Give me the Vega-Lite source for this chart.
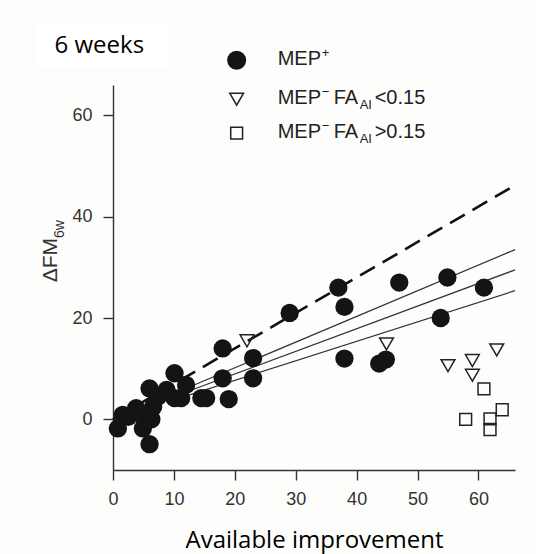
{
  "$schema": "https://vega.github.io/schema/vega-lite/v6.json",
  "width": 402,
  "height": 385,
  "autosize": {"type": "none"},
  "padding": {"left": 113, "top": 85, "right": 21, "bottom": 84},
  "background": "#fdfdfb",
  "config": {
    "view": {"stroke": null},
    "axis": {
      "grid": false,
      "domainColor": "#333333",
      "domainWidth": 1.4,
      "tickColor": "#333333",
      "tickWidth": 1.4,
      "tickSize": 10,
      "labelFont": "Liberation Sans",
      "labelFontSize": 18,
      "labelColor": "#333333",
      "labelFlush": false,
      "labelOverlap": false,
      "titleFont": "Open Sans",
      "titleFontSize": 24,
      "titleFontWeight": "normal",
      "titleColor": "#000000"
    },
    "axisX": {"tickCount": 7, "labelPadding": 10, "titlePadding": 20},
    "axisY": {"tickCount": 4, "labelPadding": 11}
  },
  "datasets": {
    "patients": [
      {"improvement": 0.8, "dfm": -1.8, "group": "MEP+"},
      {"improvement": 1.6, "dfm": 0.9, "group": "MEP+"},
      {"improvement": 2.5, "dfm": 0.5, "group": "MEP+"},
      {"improvement": 3.8, "dfm": 2.2, "group": "MEP+"},
      {"improvement": 4.6, "dfm": 1.0, "group": "MEP+"},
      {"improvement": 4.9, "dfm": -1.8, "group": "MEP+"},
      {"improvement": 6.0, "dfm": -4.9, "group": "MEP+"},
      {"improvement": 6.3, "dfm": 0.0, "group": "MEP+"},
      {"improvement": 6.6, "dfm": 2.5, "group": "MEP+"},
      {"improvement": 6.0, "dfm": 6.1, "group": "MEP+"},
      {"improvement": 7.4, "dfm": 4.5, "group": "MEP+"},
      {"improvement": 8.8, "dfm": 5.8, "group": "MEP+"},
      {"improvement": 10.1, "dfm": 9.1, "group": "MEP+"},
      {"improvement": 10.1, "dfm": 4.2, "group": "MEP+"},
      {"improvement": 11.2, "dfm": 4.2, "group": "MEP+"},
      {"improvement": 12.0, "dfm": 6.8, "group": "MEP+"},
      {"improvement": 14.5, "dfm": 4.2, "group": "MEP+"},
      {"improvement": 15.3, "dfm": 4.2, "group": "MEP+"},
      {"improvement": 18.0, "dfm": 14.0, "group": "MEP+"},
      {"improvement": 18.0, "dfm": 8.1, "group": "MEP+"},
      {"improvement": 19.0, "dfm": 4.0, "group": "MEP+"},
      {"improvement": 23.0, "dfm": 12.1, "group": "MEP+"},
      {"improvement": 23.0, "dfm": 8.1, "group": "MEP+"},
      {"improvement": 29.0, "dfm": 21.0, "group": "MEP+"},
      {"improvement": 37.0, "dfm": 26.0, "group": "MEP+"},
      {"improvement": 38.0, "dfm": 22.2, "group": "MEP+"},
      {"improvement": 38.0, "dfm": 12.0, "group": "MEP+"},
      {"improvement": 43.7, "dfm": 11.0, "group": "MEP+"},
      {"improvement": 44.8, "dfm": 11.8, "group": "MEP+"},
      {"improvement": 47.0, "dfm": 27.0, "group": "MEP+"},
      {"improvement": 53.8, "dfm": 20.0, "group": "MEP+"},
      {"improvement": 54.9, "dfm": 28.0, "group": "MEP+"},
      {"improvement": 60.9, "dfm": 26.0, "group": "MEP+"},
      {"improvement": 22.0, "dfm": 15.5, "group": "MEP- FA<0.15"},
      {"improvement": 44.9, "dfm": 14.9, "group": "MEP- FA<0.15"},
      {"improvement": 55.0, "dfm": 10.6, "group": "MEP- FA<0.15"},
      {"improvement": 59.0, "dfm": 11.6, "group": "MEP- FA<0.15"},
      {"improvement": 59.0, "dfm": 8.7, "group": "MEP- FA<0.15"},
      {"improvement": 63.0, "dfm": 13.7, "group": "MEP- FA<0.15"},
      {"improvement": 60.9, "dfm": 6.0, "group": "MEP- FA>0.15"},
      {"improvement": 57.9, "dfm": 0.0, "group": "MEP- FA>0.15"},
      {"improvement": 61.9, "dfm": 0.1, "group": "MEP- FA>0.15"},
      {"improvement": 61.9, "dfm": -2.0, "group": "MEP- FA>0.15"},
      {"improvement": 63.9, "dfm": 1.9, "group": "MEP- FA>0.15"}
    ],
    "fits": [
      {"fit": "proportional", "improvement": 0, "dfm": 0},
      {"fit": "proportional", "improvement": 66, "dfm": 46.2},
      {"fit": "upper", "improvement": 10, "dfm": 5.1},
      {"fit": "upper", "improvement": 66, "dfm": 33.5},
      {"fit": "estimate", "improvement": 10, "dfm": 4.5},
      {"fit": "estimate", "improvement": 66, "dfm": 29.5},
      {"fit": "lower", "improvement": 10, "dfm": 3.85},
      {"fit": "lower", "improvement": 66, "dfm": 25.4}
    ],
    "key": [
      {"group": "MEP+", "ly": 70.9, "base": "MEP", "sup": "+", "mid": "", "sub": "", "tail": ""},
      {"group": "MEP- FA<0.15", "ly": 63.2, "base": "MEP", "sup": "−", "mid": "FA", "sub": "AI", "tail": "<0.15"},
      {"group": "MEP- FA>0.15", "ly": 56.5, "base": "MEP", "sup": "−", "mid": "FA", "sub": "AI", "tail": ">0.15"}
    ],
    "captions": [
      {"period": "6 weeks", "ytitle": "ΔFM", "ysub": "6w"}
    ]
  },
  "layer": [
    {
      "data": {"name": "fits"},
      "transform": [{"filter": "datum.fit === 'proportional'"}],
      "mark": {"type": "line", "color": "#111111", "strokeWidth": 2.6, "strokeDash": [17, 9]},
      "encoding": {
        "x": {"field": "improvement", "type": "quantitative", "scale": {"domain": [0, 66], "nice": false, "zero": false},
              "axis": {"title": "Available improvement"}},
        "y": {"field": "dfm", "type": "quantitative", "scale": {"domain": [-10, 66], "nice": false, "zero": false},
              "axis": {"title": null}}
      }
    },
    {
      "data": {"name": "captions"},
      "mark": {"type": "rect", "fill": "#ffffff"},
      "encoding": {
        "x": {"datum": -12.9, "type": "quantitative", "scale": {"domain": [0, 66], "nice": false, "zero": false}},
        "x2": {"datum": 9.3},
        "y": {"datum": 78.4, "type": "quantitative", "scale": {"domain": [-10, 66], "nice": false, "zero": false}},
        "y2": {"datum": 69.4}
      }
    },
    {
      "data": {"name": "captions"},
      "mark": {"type": "text", "align": "left", "baseline": "alphabetic", "font": "Open Sans", "fontSize": 24, "fill": "#000000"},
      "encoding": {
        "x": {"datum": -9.6, "type": "quantitative", "scale": {"domain": [0, 66], "nice": false, "zero": false}},
        "y": {"datum": 72.3, "type": "quantitative", "scale": {"domain": [-10, 66], "nice": false, "zero": false}},
        "text": {"field": "period"}
      }
    },
    {
      "data": {"name": "captions"},
      "mark": {"type": "text", "angle": 270, "align": "right", "baseline": "alphabetic", "font": "Liberation Sans", "fontSize": 21, "fill": "#333333"},
      "encoding": {
        "x": {"datum": -9.19, "type": "quantitative", "scale": {"domain": [0, 66], "nice": false, "zero": false}},
        "y": {"datum": 35.8, "type": "quantitative", "scale": {"domain": [-10, 66], "nice": false, "zero": false}},
        "text": {"field": "ytitle"}
      }
    },
    {
      "data": {"name": "captions"},
      "mark": {"type": "text", "angle": 270, "align": "left", "baseline": "alphabetic", "font": "Liberation Sans", "fontSize": 14, "fill": "#333333"},
      "encoding": {
        "x": {"datum": -8.1, "type": "quantitative", "scale": {"domain": [0, 66], "nice": false, "zero": false}},
        "y": {"datum": 35.8, "type": "quantitative", "scale": {"domain": [-10, 66], "nice": false, "zero": false}},
        "text": {"field": "ysub"}
      }
    },
    {
      "data": {"name": "fits"},
      "transform": [{"filter": "datum.fit !== 'proportional'"}],
      "mark": {"type": "line", "color": "#333333", "strokeWidth": 1.2},
      "encoding": {
        "x": {"field": "improvement", "type": "quantitative", "scale": {"domain": [0, 66], "nice": false, "zero": false}},
        "y": {"field": "dfm", "type": "quantitative", "scale": {"domain": [-10, 66], "nice": false, "zero": false}},
        "detail": {"field": "fit"}
      }
    },
    {
      "data": {"name": "patients"},
      "transform": [{"filter": "datum.group === 'MEP- FA<0.15'"}],
      "mark": {"type": "point", "shape": "triangle-down", "filled": false, "size": 190, "stroke": "#222222", "strokeWidth": 1.5, "opacity": 1},
      "encoding": {
        "x": {"field": "improvement", "type": "quantitative", "scale": {"domain": [0, 66], "nice": false, "zero": false}},
        "y": {"field": "dfm", "type": "quantitative", "scale": {"domain": [-10, 66], "nice": false, "zero": false}}
      }
    },
    {
      "data": {"name": "patients"},
      "transform": [{"filter": "datum.group === 'MEP- FA>0.15'"}],
      "mark": {"type": "point", "shape": "square", "filled": false, "size": 140, "stroke": "#222222", "strokeWidth": 1.5, "opacity": 1},
      "encoding": {
        "x": {"field": "improvement", "type": "quantitative", "scale": {"domain": [0, 66], "nice": false, "zero": false}},
        "y": {"field": "dfm", "type": "quantitative", "scale": {"domain": [-10, 66], "nice": false, "zero": false}}
      }
    },
    {
      "data": {"name": "patients"},
      "transform": [{"filter": "datum.group === 'MEP+'"}],
      "mark": {"type": "circle", "size": 335, "fill": "#141414", "opacity": 1},
      "encoding": {
        "x": {"field": "improvement", "type": "quantitative", "scale": {"domain": [0, 66], "nice": false, "zero": false}},
        "y": {"field": "dfm", "type": "quantitative", "scale": {"domain": [-10, 66], "nice": false, "zero": false}}
      }
    },
    {
      "data": {"name": "key"},
      "transform": [{"filter": "datum.group === 'MEP+'"}],
      "mark": {"type": "circle", "size": 361, "fill": "#141414", "opacity": 1},
      "encoding": {
        "x": {"datum": 20.3, "type": "quantitative", "scale": {"domain": [0, 66], "nice": false, "zero": false}},
        "y": {"field": "ly", "type": "quantitative", "scale": {"domain": [-10, 66], "nice": false, "zero": false}}
      }
    },
    {
      "data": {"name": "key"},
      "transform": [{"filter": "datum.group === 'MEP- FA<0.15'"}],
      "mark": {"type": "point", "shape": "triangle-down", "filled": false, "size": 190, "stroke": "#222222", "strokeWidth": 1.5, "opacity": 1},
      "encoding": {
        "x": {"datum": 20.3, "type": "quantitative", "scale": {"domain": [0, 66], "nice": false, "zero": false}},
        "y": {"field": "ly", "type": "quantitative", "scale": {"domain": [-10, 66], "nice": false, "zero": false}}
      }
    },
    {
      "data": {"name": "key"},
      "transform": [{"filter": "datum.group === 'MEP- FA>0.15'"}],
      "mark": {"type": "point", "shape": "square", "filled": false, "size": 140, "stroke": "#222222", "strokeWidth": 1.5, "opacity": 1},
      "encoding": {
        "x": {"datum": 20.3, "type": "quantitative", "scale": {"domain": [0, 66], "nice": false, "zero": false}},
        "y": {"field": "ly", "type": "quantitative", "scale": {"domain": [-10, 66], "nice": false, "zero": false}}
      }
    },
    {
      "data": {"name": "key"},
      "mark": {"type": "text", "align": "left", "baseline": "alphabetic", "dx": 41, "dy": 5, "font": "Liberation Sans", "fontSize": 20, "fill": "#222222"},
      "encoding": {
        "x": {"datum": 20.3, "type": "quantitative", "scale": {"domain": [0, 66], "nice": false, "zero": false}},
        "y": {"field": "ly", "type": "quantitative", "scale": {"domain": [-10, 66], "nice": false, "zero": false}},
        "text": {"field": "base"}
      }
    },
    {
      "data": {"name": "key"},
      "mark": {"type": "text", "align": "left", "baseline": "alphabetic", "dx": 85, "dy": -3, "font": "Liberation Sans", "fontSize": 13, "fill": "#222222"},
      "encoding": {
        "x": {"datum": 20.3, "type": "quantitative", "scale": {"domain": [0, 66], "nice": false, "zero": false}},
        "y": {"field": "ly", "type": "quantitative", "scale": {"domain": [-10, 66], "nice": false, "zero": false}},
        "text": {"field": "sup"}
      }
    },
    {
      "data": {"name": "key"},
      "mark": {"type": "text", "align": "left", "baseline": "alphabetic", "dx": 97, "dy": 5, "font": "Liberation Sans", "fontSize": 20, "fill": "#222222"},
      "encoding": {
        "x": {"datum": 20.3, "type": "quantitative", "scale": {"domain": [0, 66], "nice": false, "zero": false}},
        "y": {"field": "ly", "type": "quantitative", "scale": {"domain": [-10, 66], "nice": false, "zero": false}},
        "text": {"field": "mid"}
      }
    },
    {
      "data": {"name": "key"},
      "mark": {"type": "text", "align": "left", "baseline": "alphabetic", "dx": 123, "dy": 10, "font": "Liberation Sans", "fontSize": 13, "fill": "#222222"},
      "encoding": {
        "x": {"datum": 20.3, "type": "quantitative", "scale": {"domain": [0, 66], "nice": false, "zero": false}},
        "y": {"field": "ly", "type": "quantitative", "scale": {"domain": [-10, 66], "nice": false, "zero": false}},
        "text": {"field": "sub"}
      }
    },
    {
      "data": {"name": "key"},
      "mark": {"type": "text", "align": "left", "baseline": "alphabetic", "dx": 138, "dy": 5, "font": "Liberation Sans", "fontSize": 20, "fill": "#222222"},
      "encoding": {
        "x": {"datum": 20.3, "type": "quantitative", "scale": {"domain": [0, 66], "nice": false, "zero": false}},
        "y": {"field": "ly", "type": "quantitative", "scale": {"domain": [-10, 66], "nice": false, "zero": false}},
        "text": {"field": "tail"}
      }
    }
  ]
}
